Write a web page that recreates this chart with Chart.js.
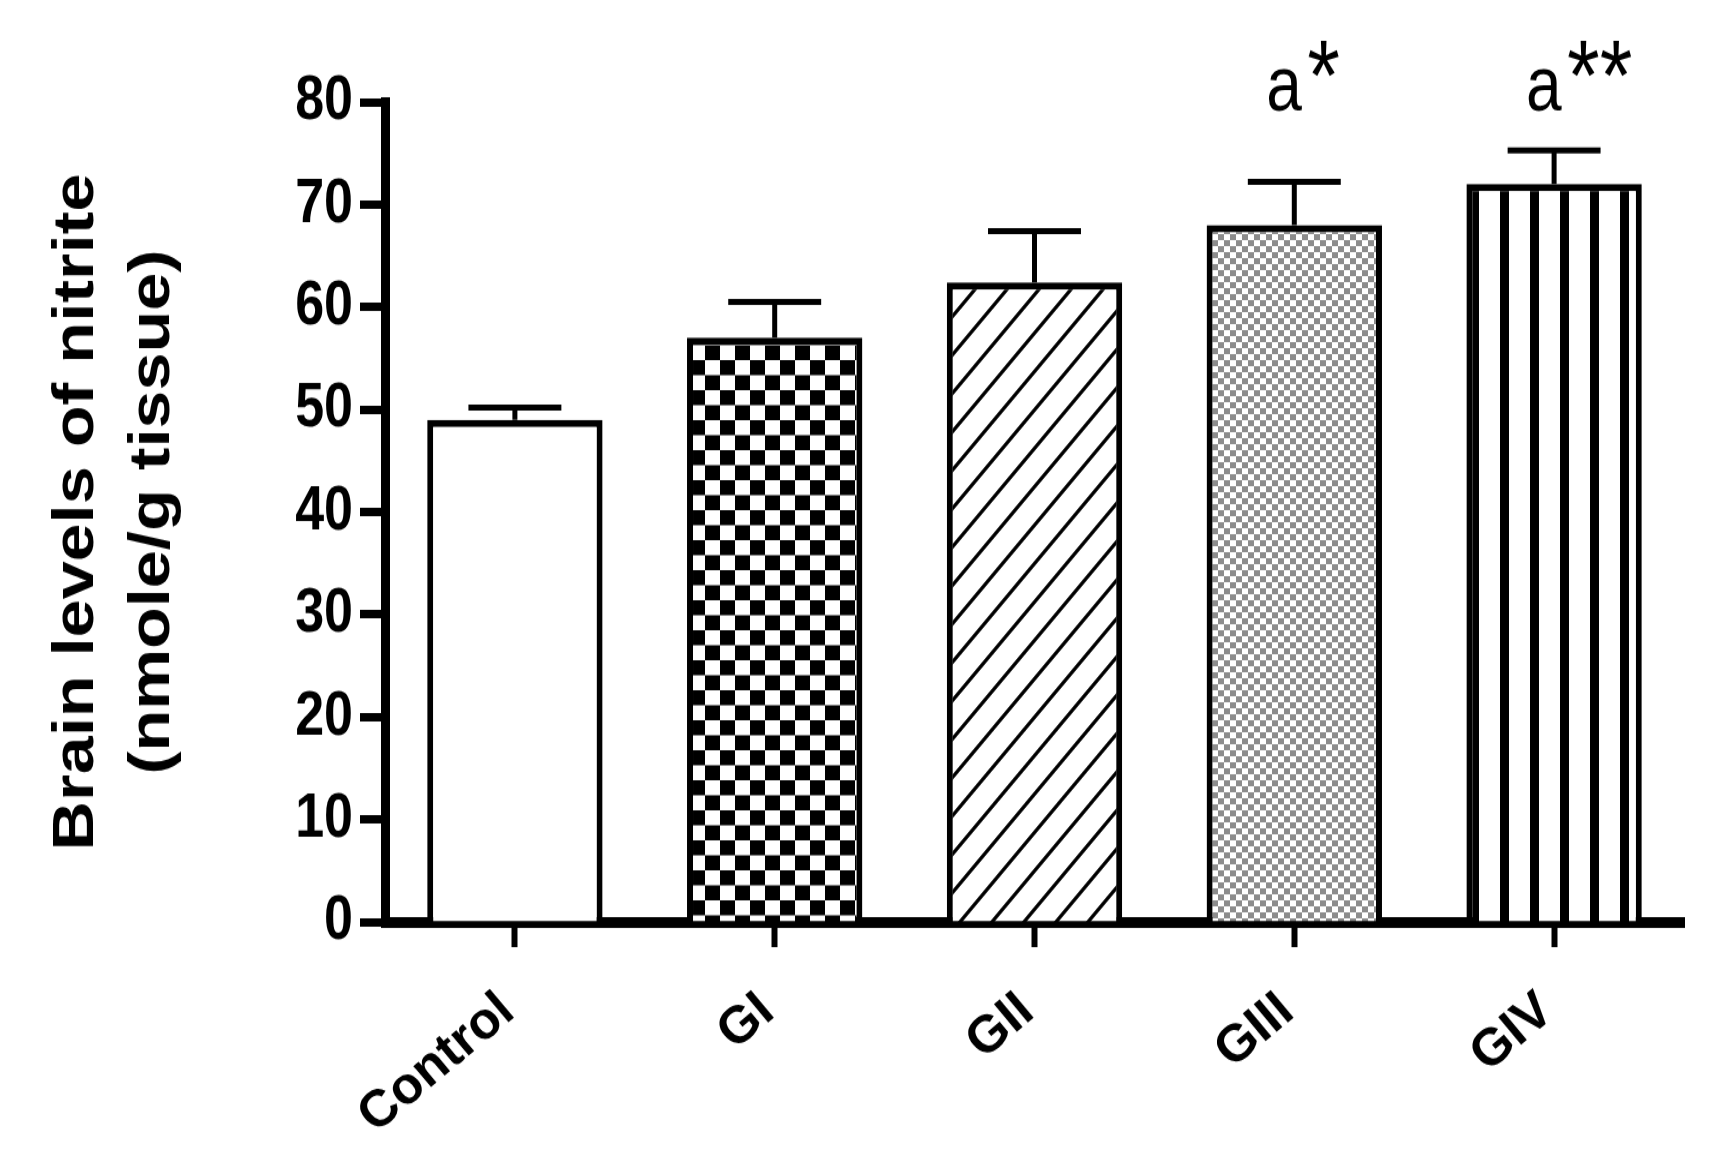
<!DOCTYPE html>
<html lang="en">
<head>
<meta charset="UTF-8">
<title>Brain levels of nitrite</title>
<script src="https://cdn.jsdelivr.net/npm/chart.js@4.4.1/dist/chart.umd.min.js"></script>
<style>
  html, body { margin: 0; padding: 0; background: #ffffff; }
  #wrap { width: 1715px; height: 1168px; }
</style>
</head>
<body>
<!-- the published figure is stretched vertically (~1.2x): draw flat, css stretches it back -->
<div id="wrap"><canvas id="nitriteChart" width="1715" height="973" style="width:1715px;height:1168px"></canvas></div>
<script>
// data
const groups = ['Control', 'GI', 'GII', 'GIII', 'GIV'];
const nitriteMean = [49.0, 57.0, 62.4, 68.0, 72.0];
const nitriteSem = [1.2, 3.5, 5.0, 4.2, 3.3];
const sigLetters = ['', '', '', 'a', 'a'];
const sigStars = ['', '', '', '*', '**'];
const yTickValues = [0, 10, 20, 30, 40, 50, 60, 70, 80];
const fillKinds = ['plain', 'checker', 'diagonal', 'fine', 'stripes'];

const STRETCH = 1168 / 973;
const FONT = '"Liberation Sans", Arial, Helvetica, sans-serif';
Chart.defaults.font.family = FONT;
Chart.defaults.color = '#000';

// hatch fills like the GraphPad bars (tiles are squashed vertically, css stretches them back)
function makePattern(kind) {
  if (kind === 'plain') return '#ffffff';
  const c = document.createElement('canvas');
  const g = c.getContext('2d');
  if (kind === 'checker') {
    c.width = 30; c.height = 25;
    g.fillStyle = '#fff'; g.fillRect(0, 0, 30, 25);
    g.fillStyle = '#000'; g.fillRect(0, 0, 15, 12.5); g.fillRect(15, 12.5, 15, 12.5);
  } else if (kind === 'diagonal') {
    c.width = c.height = 32;
    g.fillStyle = '#fff'; g.fillRect(0, 0, 32, 32);
    g.strokeStyle = '#000'; g.lineWidth = 3.2;
    g.beginPath();
    g.moveTo(-4, 36); g.lineTo(36, -4);
    g.moveTo(-4, 4); g.lineTo(4, -4);
    g.moveTo(28, 36); g.lineTo(36, 28);
    g.stroke();
  } else if (kind === 'fine') {
    c.width = 12; c.height = 10;
    g.fillStyle = '#fff'; g.fillRect(0, 0, 12, 10);
    g.fillStyle = '#8c8c8c'; g.fillRect(0, 0, 6, 5); g.fillRect(6, 5, 6, 5);
  } else if (kind === 'stripes') {
    c.width = 30; c.height = 4;
    g.fillStyle = '#fff'; g.fillRect(0, 0, 30, 4);
    g.fillStyle = '#000'; g.fillRect(0, 0, 9, 4);
  }
  return g.createPattern(c, 'repeat');
}

// one sided (upper) error bars
const errorBars = {
  id: 'errorBars',
  afterDatasetsDraw(chart) {
    const ctx = chart.ctx;
    const y = chart.scales.y;
    const meta = chart.getDatasetMeta(0);
    ctx.save();
    ctx.strokeStyle = '#000';
    ctx.lineWidth = 5;
    meta.data.forEach((bar, i) => {
      const top = y.getPixelForValue(nitriteMean[i] + nitriteSem[i]);
      const half = bar.width * 0.265;
      ctx.beginPath();
      ctx.moveTo(bar.x, bar.y);
      ctx.lineTo(bar.x, top);
      ctx.moveTo(bar.x - half, top);
      ctx.lineTo(bar.x + half, top);
      ctx.stroke();
    });
    ctx.restore();
  }
};

// category names, rotated after undoing the css stretch so they don't come out slanted
const slantLabels = {
  id: 'slantLabels',
  afterDraw(chart) {
    const ctx = chart.ctx;
    const xs = chart.scales.x;
    const base = chart.chartArea.bottom + 52;
    ctx.save();
    ctx.fillStyle = '#000';
    ctx.font = 'bold 52px ' + FONT;
    ctx.textAlign = 'right';
    ctx.textBaseline = 'top';
    groups.forEach((name, i) => {
      ctx.save();
      ctx.translate(xs.getPixelForTick(i) - 24, base);
      ctx.scale(1, 1 / STRETCH);
      ctx.rotate(-40 * Math.PI / 180);
      ctx.fillText(name, 0, 0);
      ctx.restore();
    });
    ctx.restore();
  }
};

// "a" with raised stars above GIII / GIV
const sigMarks = {
  id: 'sigMarks',
  afterDraw(chart) {
    const ctx = chart.ctx;
    const meta = chart.getDatasetMeta(0);
    const top = chart.chartArea.top;
    ctx.save();
    ctx.fillStyle = '#000';
    ctx.textAlign = 'left';
    ctx.textBaseline = 'alphabetic';
    meta.data.forEach((bar, i) => {
      if (!sigLetters[i]) return;
      ctx.font = '64px ' + FONT;
      ctx.fillText(sigLetters[i], bar.x - 28, top + 7);
      ctx.font = '84px ' + FONT;
      ctx.fillText(sigStars[i], bar.x + 13, top + 7);
    });
    ctx.restore();
  }
};

new Chart(document.getElementById('nitriteChart'), {
  type: 'bar',
  data: {
    labels: groups,
    datasets: [{
      data: nitriteMean,
      backgroundColor: fillKinds.map(makePattern),
      borderColor: '#000',
      borderWidth: 6,
      barPercentage: 0.675,
      categoryPercentage: 1
    }]
  },
  options: {
    responsive: false,
    animation: false,
    devicePixelRatio: 1,
    layout: { padding: { top: 85, right: 31, bottom: 0, left: 0 } },
    plugins: { legend: { display: false }, tooltip: { enabled: false } },
    scales: {
      x: {
        grid: { offset: false, drawOnChartArea: false, tickLength: 21, tickWidth: 6, tickColor: '#000' },
        border: { color: '#000', width: 9 },
        ticks: { display: false },
        afterFit(s) { s.height = 205; }
      },
      y: {
        min: 0,
        max: 80,
        afterBuildTicks(s) { s.ticks = yTickValues.map(v => ({ value: v })); },
        grid: { drawOnChartArea: false, tickLength: 25, tickWidth: 7, tickColor: '#000' },
        border: { color: '#000', width: 9 },
        ticks: { color: '#000', font: { size: 52, weight: 'bold' }, padding: 7 },
        title: {
          display: true,
          text: ['Brain levels of nitrite', '(nmole/g tissue)'],
          color: '#000',
          font: { size: 57, weight: 'bold', lineHeight: 1.333 },
          padding: { top: 39, bottom: 0 }
        },
        afterFit(s) { s.width = 385; }
      }
    }
  },
  plugins: [errorBars, slantLabels, sigMarks]
});
</script>
</body>
</html>
